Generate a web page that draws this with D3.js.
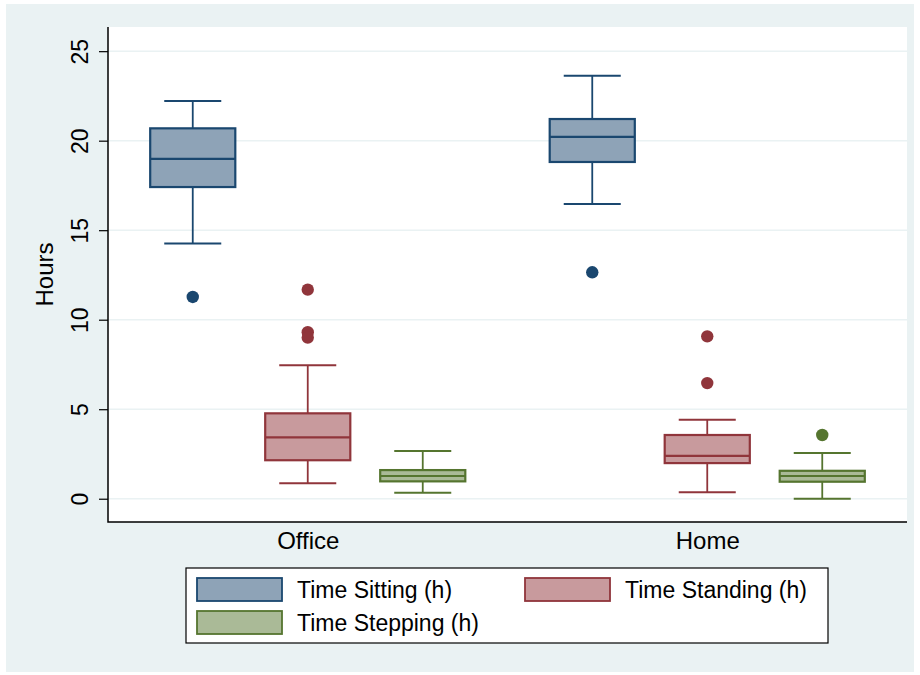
<!DOCTYPE html>
<html>
<head>
<meta charset="utf-8">
<script src="https://cdn.jsdelivr.net/npm/d3@7"></script>
<style>
  body { margin: 0; background: #fff; }
  text { font-family: "Liberation Sans", Arial, sans-serif; }
</style>
</head>
<body>
<div id="chart"></div>
<script>
const groups = ['Office', 'Home']
const series = ['Time Sitting (h)', 'Time Standing (h)', 'Time Stepping (h)']
const yTicks = [0, 5, 10, 15, 20, 25]

// [lower whisker, q1, median, q3, upper whisker] per group, one array per series
const sitting = [
	[14.25, 17.41, 18.98, 20.69, 22.22],
	[16.46, 18.81, 20.21, 21.21, 23.63],
]
const standing = [
	[0.86, 2.15, 3.43, 4.77, 7.45],
	[0.36, 1.99, 2.39, 3.56, 4.41],
]
const stepping = [
	[0.34, 0.97, 1.27, 1.60, 2.66],
	[0.00, 0.95, 1.27, 1.56, 2.55],
]
const sittingOut = [[11.27], [12.65]]
const standingOut = [[11.68, 9.30, 9.00], [9.07, 6.46]]
const steppingOut = [[], [3.56]]

const STROKES = ['#1a476f', '#90353b', '#55752f']
const FILLS = ['#8ea3b7', '#c89a9d', '#aaba97']
const BG = '#eaf2f3'

let width = 920
let height = 675

let stats = [sitting, standing, stepping]
let outliers = [sittingOut, standingOut, steppingOut]

let svg = d3.select('#chart').append('svg')
	.attr('width', width)
	.attr('height', height)

// outer graph region
svg.append('rect')
	.attr('x', 6).attr('y', 4)
	.attr('width', 908).attr('height', 668)
	.attr('fill', BG)

let plot = { left: 108, right: 907, top: 27, bottom: 522 }

svg.append('rect')
	.attr('x', plot.left).attr('y', plot.top)
	.attr('width', plot.right - plot.left).attr('height', plot.bottom - plot.top)
	.attr('fill', '#fff')

let y = d3.scaleLinear()
	.domain([-1.3, 26.35])
	.range([plot.bottom, plot.top])

let x0 = d3.scalePoint()
	.domain(groups)
	.range([plot.left, plot.right])
	.padding(0.5)

let x1 = d3.scaleBand()
	.domain(series)
	.range([-172.5, 172.5])
	.paddingInner(0.26)
	.paddingOuter(0.13)

// grid lines
svg.append('g')
	.selectAll('line')
	.data(yTicks)
	.enter()
		.append('line')
		.attr('x1', plot.left).attr('x2', plot.right)
		.attr('y1', d => y(d)).attr('y2', d => y(d))
		.attr('stroke', BG)
		.attr('stroke-width', 1.5)

// y axis
let yAxis = svg.append('g')
	.attr('transform', `translate(${plot.left},0)`)
	.call(d3.axisLeft(y).tickValues(yTicks).tickSize(9).tickPadding(0).tickFormat(d3.format('d')))

yAxis.select('.domain').remove()
yAxis.selectAll('.tick line').attr('stroke', '#000').attr('stroke-width', 1.2)
yAxis.selectAll('.tick text')
	.attr('x', null).attr('dy', null)
	.attr('text-anchor', 'middle')
	.attr('transform', 'translate(-20,0) rotate(-90)')
	.style('font-size', '23px')
	.attr('fill', '#000')

// x axis labels
let xAxis = svg.append('g')
	.attr('transform', `translate(0,${plot.bottom})`)
	.call(d3.axisBottom(x0).tickSize(0).tickPadding(10))

xAxis.select('.domain').remove()
xAxis.selectAll('.tick text')
	.style('font-size', '24px')
	.attr('fill', '#000')

// axis lines
svg.append('path')
	.attr('d', `M${plot.left},${plot.top}V${plot.bottom}H${plot.right}`)
	.attr('fill', 'none')
	.attr('stroke', '#000')
	.attr('stroke-width', 1.5)

svg.append('text')
	.attr('transform', `translate(53,${(plot.top + plot.bottom) / 2}) rotate(-90)`)
	.attr('text-anchor', 'middle')
	.style('font-size', '24px')
	.text('Hours')

// boxes
let bw = x1.bandwidth()
let cap = bw * 0.67

let boxData = []
series.forEach((s, si) => {
	groups.forEach((g, gi) => {
		boxData.push({ s, si, g, v: stats[si][gi], out: outliers[si][gi] })
	})
})

let box = svg.selectAll('.box')
	.data(boxData)
	.enter()
		.append('g')
		.attr('class', 'box')
		.attr('transform', d => `translate(${x0(d.g) + x1(d.s) + bw / 2},0)`)

box.each(function (d) {
	let gEl = d3.select(this)
	let col = STROKES[d.si]
	let [lo, q1, med, q3, hi] = d.v

	// whiskers
	gEl.append('line')
		.attr('x1', 0).attr('x2', 0)
		.attr('y1', y(hi)).attr('y2', y(q3))
		.attr('stroke', col).attr('stroke-width', 1.8)
	gEl.append('line')
		.attr('x1', 0).attr('x2', 0)
		.attr('y1', y(q1)).attr('y2', y(lo))
		.attr('stroke', col).attr('stroke-width', 1.8)
	gEl.selectAll('.cap')
		.data([lo, hi])
		.enter()
			.append('line')
			.attr('x1', -cap / 2).attr('x2', cap / 2)
			.attr('y1', v => y(v)).attr('y2', v => y(v))
			.attr('stroke', col).attr('stroke-width', 2)

	gEl.append('rect')
		.attr('x', -bw / 2).attr('width', bw)
		.attr('y', y(q3)).attr('height', y(q1) - y(q3))
		.attr('fill', FILLS[d.si])
		.attr('stroke', col).attr('stroke-width', 2.2)

	gEl.append('line')
		.attr('x1', -bw / 2).attr('x2', bw / 2)
		.attr('y1', y(med)).attr('y2', y(med))
		.attr('stroke', col).attr('stroke-width', 2.2)

	gEl.selectAll('circle')
		.data(d.out)
		.enter()
			.append('circle')
			.attr('cx', 0)
			.attr('cy', v => y(v))
			.attr('r', 6.2)
			.attr('fill', col)
})

// legend
let legend = svg.append('g')
legend.append('rect')
	.attr('x', 186).attr('y', 568)
	.attr('width', 642).attr('height', 75)
	.attr('fill', '#fff')
	.attr('stroke', '#000')
	.attr('stroke-width', 1.2)

let legendPos = [[197, 578], [525, 578], [197, 611]]

let item = legend.selectAll('.item')
	.data(series)
	.enter()
		.append('g')
		.attr('class', 'item')
		.attr('transform', (d, i) => `translate(${legendPos[i][0]},${legendPos[i][1]})`)

item.append('rect')
	.attr('width', 85).attr('height', 23)
	.attr('fill', (d, i) => FILLS[i])
	.attr('stroke', (d, i) => STROKES[i])
	.attr('stroke-width', 1.8)

item.append('text')
	.attr('x', 100).attr('y', 12)
	.attr('dy', '0.36em')
	.style('font-size', '23px')
	.text(d => d)
</script>
</body>
</html>
